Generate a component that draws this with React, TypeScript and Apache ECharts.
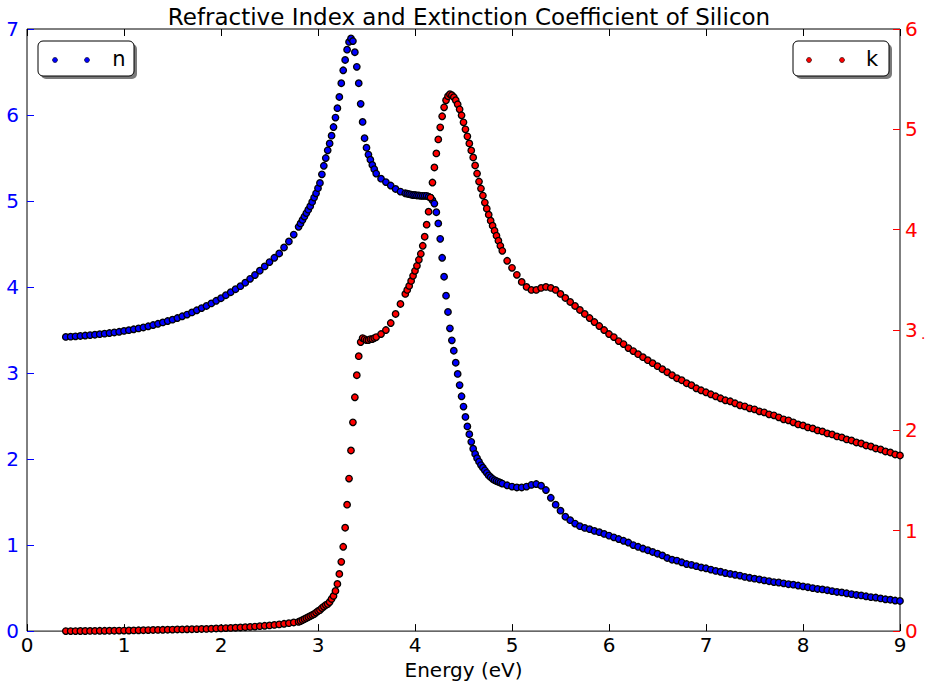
import React, { useEffect, useRef } from "react";
import * as echarts from "echarts";

// Photon energy (eV)
const energy = [
  0.40, 0.45, 0.50, 0.55, 0.60, 0.65, 0.70, 0.75, 0.80, 0.85,
  0.90, 0.95, 1.00, 1.05, 1.10, 1.15, 1.20, 1.25, 1.30, 1.35,
  1.40, 1.45, 1.50, 1.55, 1.60, 1.65, 1.70, 1.75, 1.80, 1.85,
  1.90, 1.95, 2.00, 2.05, 2.10, 2.15, 2.20, 2.25, 2.30, 2.35,
  2.40, 2.45, 2.50, 2.55, 2.60, 2.65, 2.70, 2.75, 2.80,
  2.82, 2.84, 2.86, 2.88, 2.90, 2.92, 2.94, 2.96, 2.98, 3.00,
  3.02, 3.04, 3.06, 3.08, 3.10, 3.12, 3.14, 3.16, 3.18, 3.20,
  3.22, 3.24, 3.26, 3.28, 3.30, 3.32, 3.34, 3.36, 3.38, 3.40,
  3.42, 3.44, 3.46, 3.48, 3.50, 3.52, 3.54, 3.56, 3.58, 3.60,
  3.65, 3.70, 3.75, 3.80, 3.85,
  3.90, 3.92, 3.94, 3.96, 3.98, 4.00, 4.02, 4.04, 4.06, 4.08,
  4.10, 4.12, 4.14, 4.16, 4.18, 4.20, 4.22, 4.24, 4.26, 4.28,
  4.30, 4.32, 4.34, 4.36, 4.38, 4.40, 4.42, 4.44, 4.46, 4.48,
  4.50, 4.52, 4.54, 4.56, 4.58, 4.60, 4.62, 4.64, 4.66, 4.68,
  4.70, 4.72, 4.74, 4.76, 4.78, 4.80, 4.82, 4.84, 4.86, 4.88,
  4.90,
  4.95, 5.00, 5.05, 5.10, 5.15, 5.20, 5.25, 5.30, 5.35, 5.40,
  5.45, 5.50, 5.55, 5.60, 5.65, 5.70, 5.75, 5.80, 5.85, 5.90,
  5.95, 6.00, 6.05, 6.10, 6.15, 6.20, 6.25, 6.30, 6.35, 6.40,
  6.45, 6.50, 6.55, 6.60, 6.65, 6.70, 6.75, 6.80, 6.85, 6.90,
  6.95, 7.00, 7.05, 7.10, 7.15, 7.20, 7.25, 7.30, 7.35, 7.40,
  7.45, 7.50, 7.55, 7.60, 7.65, 7.70, 7.75, 7.80, 7.85, 7.90,
  7.95, 8.00, 8.05, 8.10, 8.15, 8.20, 8.25, 8.30, 8.35, 8.40,
  8.45, 8.50, 8.55, 8.60, 8.65, 8.70, 8.75, 8.80, 8.85, 8.90,
  8.95, 9.00,
];

// Refractive index n (left axis)
const nValues = [
  3.420, 3.423, 3.427, 3.431, 3.436, 3.441, 3.446, 3.452, 3.458, 3.465,
  3.472, 3.480, 3.490, 3.499, 3.509, 3.519, 3.530, 3.544, 3.558, 3.573,
  3.589, 3.605, 3.621, 3.640, 3.660, 3.680, 3.705, 3.730, 3.755, 3.780,
  3.810, 3.840, 3.870, 3.905, 3.940, 3.975, 4.010, 4.050, 4.095, 4.140,
  4.190, 4.240, 4.290, 4.340, 4.390, 4.460, 4.530, 4.610, 4.700,
  4.74, 4.78, 4.82, 4.86, 4.90, 4.94, 4.99, 5.04, 5.09, 5.15,
  5.21, 5.31, 5.41, 5.50, 5.59, 5.67, 5.76, 5.86, 5.97, 6.08,
  6.21, 6.37, 6.52, 6.64, 6.76, 6.85, 6.89, 6.86, 6.73, 6.56,
  6.37, 6.13, 5.92, 5.73, 5.62, 5.54, 5.48, 5.42, 5.37, 5.32,
  5.26, 5.22, 5.18, 5.14, 5.11,
  5.09, 5.085, 5.08, 5.075, 5.07, 5.07, 5.065, 5.065, 5.06, 5.06,
  5.06, 5.06, 5.05, 5.04, 5.01, 4.97, 4.87, 4.74, 4.56, 4.34,
  4.12, 3.90, 3.71, 3.52, 3.38, 3.26, 3.12, 2.99, 2.86, 2.73,
  2.61, 2.49, 2.38, 2.29, 2.20, 2.12, 2.06, 2.01, 1.97, 1.93,
  1.90, 1.87, 1.84, 1.81, 1.79, 1.77, 1.755, 1.745, 1.735, 1.725,
  1.715,
  1.695, 1.68, 1.67, 1.67, 1.68, 1.70, 1.71, 1.69, 1.64, 1.55,
  1.47, 1.40, 1.33, 1.29, 1.25, 1.22, 1.20, 1.185, 1.165, 1.15,
  1.13, 1.11, 1.09, 1.07, 1.05, 1.03, 1.00, 0.98, 0.96, 0.94,
  0.92, 0.90, 0.88, 0.85, 0.83, 0.82, 0.80, 0.78, 0.77, 0.755,
  0.74, 0.73, 0.715, 0.70, 0.69, 0.675, 0.665, 0.655, 0.645, 0.63,
  0.62, 0.61, 0.60, 0.59, 0.58, 0.57, 0.565, 0.555, 0.545, 0.54,
  0.53, 0.52, 0.51, 0.50, 0.49, 0.485, 0.475, 0.465, 0.455, 0.45,
  0.44, 0.43, 0.42, 0.415, 0.405, 0.395, 0.39, 0.38, 0.37, 0.365,
  0.355, 0.35,
];

// Extinction coefficient k (right axis)
const kValues = [
  0.000, 0.000, 0.000, 0.001, 0.001, 0.002, 0.002, 0.003, 0.003, 0.004,
  0.004, 0.005, 0.005, 0.006, 0.007, 0.008, 0.009, 0.010, 0.011, 0.012,
  0.013, 0.014, 0.015, 0.016, 0.017, 0.018, 0.019, 0.020, 0.021, 0.022,
  0.024, 0.026, 0.028, 0.030, 0.032, 0.034, 0.036, 0.039, 0.042, 0.045,
  0.049, 0.053, 0.057, 0.062, 0.067, 0.073, 0.079, 0.086, 0.093,
  0.10, 0.11, 0.12, 0.13, 0.14, 0.15, 0.16, 0.17, 0.185, 0.20,
  0.21, 0.23, 0.245, 0.26, 0.27, 0.29, 0.32, 0.35, 0.40, 0.47,
  0.57, 0.69, 0.84, 1.03, 1.26, 1.52, 1.80, 2.08, 2.33, 2.55,
  2.74, 2.88, 2.92, 2.91, 2.90, 2.90, 2.91, 2.91, 2.92, 2.93,
  2.96, 3.00, 3.07, 3.16, 3.26,
  3.36, 3.40, 3.44, 3.49, 3.54, 3.59, 3.64, 3.70, 3.76, 3.84,
  3.93, 4.05, 4.18, 4.32, 4.47, 4.62, 4.76, 4.90, 5.02, 5.13,
  5.22, 5.29, 5.33, 5.35, 5.34, 5.32, 5.29, 5.25, 5.20, 5.14,
  5.07, 5.00, 4.93, 4.86, 4.79, 4.72, 4.64, 4.56, 4.48, 4.41,
  4.34, 4.27, 4.21, 4.15, 4.09, 4.04, 3.99, 3.94, 3.89, 3.84,
  3.79,
  3.69, 3.62, 3.55, 3.48, 3.43, 3.40, 3.40, 3.42, 3.43, 3.42,
  3.40, 3.36, 3.32, 3.28, 3.24, 3.20, 3.16, 3.12, 3.08, 3.04,
  3.00, 2.96, 2.93, 2.89, 2.86, 2.82, 2.79, 2.76, 2.73, 2.70,
  2.67, 2.64, 2.61, 2.58, 2.55, 2.52, 2.50, 2.47, 2.45, 2.42,
  2.40, 2.38, 2.36, 2.34, 2.32, 2.30, 2.29, 2.27, 2.25, 2.24,
  2.22, 2.21, 2.19, 2.18, 2.16, 2.15, 2.13, 2.11, 2.10, 2.08,
  2.06, 2.05, 2.03, 2.02, 2.00, 1.99, 1.97, 1.96, 1.94, 1.93,
  1.91, 1.90, 1.88, 1.87, 1.85, 1.84, 1.82, 1.81, 1.79, 1.78,
  1.76, 1.75,
];

const titleText = "Refractive Index and Extinction Coefficient of Silicon";
const xAxisName = "Energy (eV)";
const legendN = "n";
const legendK = "k";

const FONT = "DejaVu Sans";

export default function App() {
  const ref = useRef<HTMLDivElement>(null);

  useEffect(() => {
    if (!ref.current) return;
    const chart = echarts.init(ref.current, undefined, { renderer: "svg" });
    const len = Math.min(energy.length, nValues.length, kValues.length);
    const nData: number[][] = [];
    const kData: number[][] = [];
    for (let i = 0; i < len; i++) {
      nData.push([energy[i], nValues[i]]);
      kData.push([energy[i], kValues[i]]);
    }

    const legendBox = (x: number, color: string, label: string, dotX1: number, dotX2: number, textX: number) => [
      { type: "rect", shape: { x: x + 3, y: 44, width: 96, height: 35, r: 5 }, style: { fill: "#7a7a7a" }, z: 100 },
      { type: "rect", shape: { x, y: 41, width: 96, height: 35, r: 5 }, style: { fill: "#fff", stroke: "#000", lineWidth: 1 }, z: 101 },
      { type: "circle", shape: { cx: dotX1, cy: 60, r: 2.5 }, style: { fill: color, stroke: "#000", lineWidth: 0.6 }, z: 102 },
      { type: "circle", shape: { cx: dotX2, cy: 60, r: 2.5 }, style: { fill: color, stroke: "#000", lineWidth: 0.6 }, z: 102 },
      { type: "text", x: textX, y: 59, style: { text: label, font: `21px '${FONT}'`, fill: "#000", textAlign: "center", textVerticalAlign: "middle" }, z: 102 },
    ];

    const axisBase = {
      axisLine: { show: false, onZero: false },
      splitLine: { show: false },
    };

    chart.setOption({
      animation: false,
      backgroundColor: "#fff",
      textStyle: { fontFamily: FONT },
      title: {
        text: titleText,
        left: 464,
        textAlign: "center",
        top: 0,
        textStyle: { fontFamily: FONT, fontSize: 23, fontWeight: "normal", color: "#000" },
      },
      grid: { left: 27, right: 29, top: 29, bottom: 53, show: true, borderColor: "#000", borderWidth: 1, backgroundColor: "transparent" },
      xAxis: [
        {
          ...axisBase,
          type: "value", min: 0, max: 9, interval: 1, position: "bottom",
          name: xAxisName, nameLocation: "middle", nameGap: 26,
          nameTextStyle: { fontFamily: FONT, fontSize: 20, color: "#000" },
          axisTick: { show: true, inside: true, length: 7, lineStyle: { color: "#000" } },
          axisLabel: { color: "#000", fontSize: 20, fontFamily: FONT, margin: 4 },
        },
        {
          ...axisBase,
          type: "value", min: 0, max: 9, interval: 1, position: "top",
          axisTick: { show: true, inside: true, length: 7, lineStyle: { color: "#000" } },
          axisLabel: { show: false },
        },
      ],
      yAxis: [
        {
          ...axisBase,
          type: "value", min: 0, max: 7, interval: 1, position: "left",
          axisTick: { show: true, inside: true, length: 7, lineStyle: { color: "#0000ff" } },
          axisLabel: { color: "#0000ff", fontSize: 20, fontFamily: FONT, margin: 8 },
        },
        {
          ...axisBase,
          type: "value", min: 0, max: 6, interval: 1, position: "right",
          axisTick: { show: true, inside: true, length: 7, lineStyle: { color: "#ff0000" } },
          axisLabel: { color: "#ff0000", fontSize: 20, fontFamily: FONT, margin: 5 },
        },
      ],
      series: [
        {
          name: legendN, type: "scatter", xAxisIndex: 0, yAxisIndex: 0, data: nData,
          symbol: "circle", symbolSize: 6.5,
          itemStyle: { color: "#0000ff", borderColor: "#000000", borderWidth: 1.3, opacity: 1 },
          emphasis: { disabled: true }, z: 3,
        },
        {
          name: legendK, type: "scatter", xAxisIndex: 0, yAxisIndex: 1, data: kData,
          symbol: "circle", symbolSize: 6.5,
          itemStyle: { color: "#ff0000", borderColor: "#000000", borderWidth: 1.3, opacity: 1 },
          emphasis: { disabled: true }, z: 3,
        },
      ],
      graphic: [
        ...legendBox(38, "#0000ff", legendN, 55, 87, 119),
        ...legendBox(793, "#ff0000", legendK, 809, 842, 872),
        { type: "text", x: 921, y: 334, style: { text: ".", font: `14px '${FONT}'`, fill: "#ff0000", textVerticalAlign: "middle" }, z: 50 },
      ],
    });
    return () => chart.dispose();
  }, []);

  return <div ref={ref} style={{ position: "fixed", left: 0, top: 0, width: 929, height: 685 }} />;
}
